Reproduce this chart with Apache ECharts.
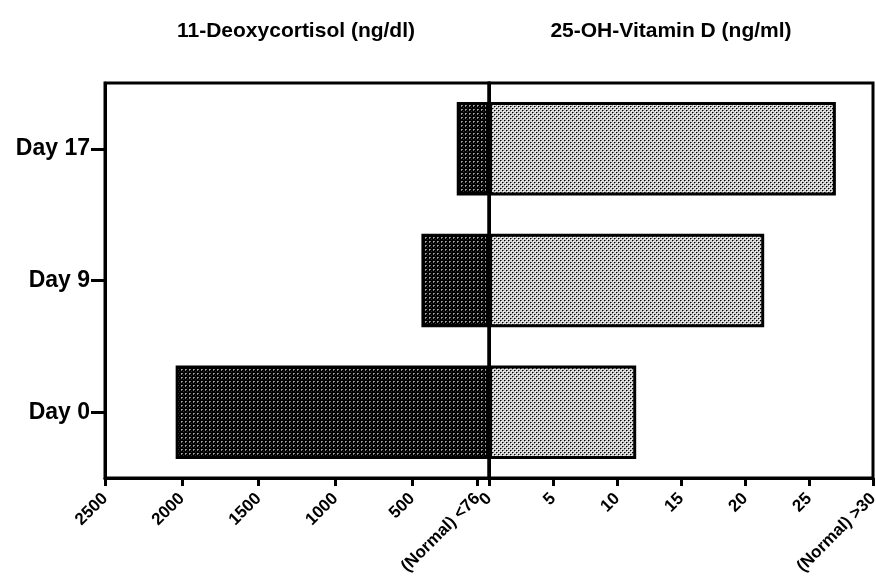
<!DOCTYPE html>
<html>
<head>
<meta charset="utf-8">
<script src="https://cdn.jsdelivr.net/npm/echarts@6/dist/echarts.min.js"></script>
<style>
html,body{margin:0;padding:0;background:#fff;overflow:hidden;}
#c{width:876px;height:583px;}
</style>
</head>
<body>
<div id="c"></div>
<script>
var categories = ['Day 0', 'Day 9', 'Day 17'];
var deoxycortisol = [2040, 440, 210];
var vitaminD = [11.5, 21.5, 27.1];
var leftTicks = [76, 500, 1000, 1500, 2000, 2500];
var rightTicks = [0, 5, 10, 15, 20, 25, 30];
var leftTitle = '11-Deoxycortisol (ng/dl)';
var rightTitle = '25-OH-Vitamin D (ng/ml)';

function makePattern(bg, dots) {
  var cv = document.createElement('canvas');
  cv.width = 4; cv.height = 4;
  var ctx = cv.getContext('2d');
  ctx.fillStyle = bg; ctx.fillRect(0, 0, 4, 4);
  dots.forEach(function (d) { ctx.fillStyle = d[2]; ctx.fillRect(d[0], d[1], 1, 1); });
  return cv;
}
var darkPat = makePattern('#000', [[1,1,'#a8a8a8'],[2,1,'#808080'],[1,2,'#808080'],[3,3,'#303030']]);
var lightPat = makePattern('#d8d8d8', [[0,0,'#000'],[2,2,'#000'],[1,0,'#777'],[0,1,'#999'],[3,2,'#777'],[2,3,'#999'],[1,1,'#fff'],[3,3,'#fff']]);

var font = 'Liberation Sans';
var chart = echarts.init(document.getElementById('c'));
var tickLabel = {fontFamily: font, fontWeight: 'bold', fontSize: 17, color: '#000', rotate: 45, margin: 18};
var titleStyle = {fontFamily: font, fontWeight: 'bold', fontSize: 21, color: '#000'};
chart.setOption({
  animation: false,
  title: [
    {text: leftTitle, left: 291, top: 16, textAlign: 'center', textStyle: titleStyle},
    {text: rightTitle, left: 666, top: 16, textAlign: 'center', textStyle: titleStyle}
  ],
  grid: [
    {left: 105, top: 83, width: 384, height: 395, show: true, borderColor: '#000', borderWidth: 3, backgroundColor: 'transparent', containLabel: false, outerBoundsMode: 'none'},
    {left: 489, top: 83, width: 384, height: 395, show: true, borderColor: '#000', borderWidth: 3, backgroundColor: 'transparent', containLabel: false, outerBoundsMode: 'none'}
  ],
  xAxis: [
    {gridIndex: 0, type: 'value', min: 0, max: 2500, inverse: true,
     splitLine: {show: false},
     axisLine: {show: true, onZero: false, lineStyle: {color: '#000', width: 3}},
     axisTick: {show: true, length: 8, lineStyle: {color: '#000', width: 3}, customValues: leftTicks},
     axisLabel: Object.assign({}, tickLabel, {customValues: leftTicks, formatter: function (v) { return v === 76 ? '(Normal) <76' : String(v); }})},
    {gridIndex: 1, type: 'value', min: 0, max: 30,
     splitLine: {show: false},
     axisLine: {show: true, onZero: false, lineStyle: {color: '#000', width: 3}},
     axisTick: {show: true, length: 8, lineStyle: {color: '#000', width: 3}, customValues: rightTicks},
     axisLabel: Object.assign({}, tickLabel, {customValues: rightTicks, formatter: function (v) { return v === 30 ? '(Normal) >30' : String(v); }})}
  ],
  yAxis: [
    {gridIndex: 0, type: 'category', data: categories,
     axisLine: {show: true, onZero: false, lineStyle: {color: '#000', width: 3}},
     axisTick: {show: true, alignWithLabel: true, length: 14, lineStyle: {color: '#000', width: 3}},
     axisLabel: {fontFamily: font, fontWeight: 'bold', fontSize: 23, color: '#000', margin: 15}},
    {gridIndex: 1, type: 'category', data: categories,
     axisLine: {show: true, onZero: false, lineStyle: {color: '#000', width: 3}},
     axisTick: {show: false}, axisLabel: {show: false}}
  ],
  series: [
    {type: 'bar', xAxisIndex: 0, yAxisIndex: 0, data: deoxycortisol, barCategoryGap: '29%',
     itemStyle: {color: {image: darkPat, repeat: 'repeat'}, borderColor: '#000', borderWidth: 3}},
    {type: 'bar', xAxisIndex: 1, yAxisIndex: 1, data: vitaminD, barCategoryGap: '29%',
     itemStyle: {color: {image: lightPat, repeat: 'repeat'}, borderColor: '#000', borderWidth: 3}}
  ]
});
</script>
</body>
</html>
